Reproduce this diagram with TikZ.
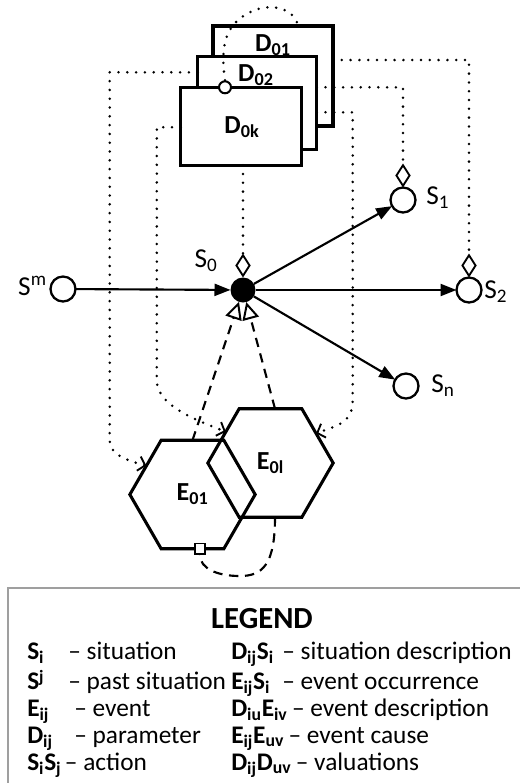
\documentclass[tikz,border=0pt]{standalone}
\usepackage{fontspec}
\setmainfont{Carlito}
\usetikzlibrary{arrows.meta,shapes.geometric,calc}
\newcommand\mysup[1]{\raisebox{0.25em}{\fontsize{13}{14}\selectfont #1}}
\begin{document}
\begin{tikzpicture}[x=0.75pt,y=-0.75pt,
  card/.style={draw, line width=2.5pt, fill=white, inner sep=0pt, outer sep=0pt},
  dlab/.style={font=\fontsize{19.5}{21}\selectfont\bfseries, inner sep=0pt},
  slab/.style={font=\fontsize{20.5}{22}\selectfont, inner sep=0pt},
  sit/.style={circle, draw, line width=1.7pt, fill=white, minimum size=18.75pt, inner sep=0pt, outer sep=0pt},
  hexa/.style={regular polygon, regular polygon sides=6, draw, line width=2.3pt, minimum size=94pt, inner sep=0pt, outer sep=0pt, font=\fontsize{19.5}{21}\selectfont\bfseries},
  sarrow/.style={line width=1.6pt, -{Triangle[length=12pt,width=9pt]}},
  dotline/.style={line width=2.1pt, dash pattern=on 0pt off 6.6pt, line cap=round},
  dashline/.style={line width=1.6pt, dash pattern=on 7pt off 5pt},
  otri/.style={-{Triangle[open,length=13pt,width=12.5pt,line width=1.5pt]}},
  dia/.style={-{Diamond[open,length=18pt,width=11.5pt,line width=1.4pt]}},
  barb/.style={-{Straight Barb[length=5pt,width=11pt,line width=1.4pt]}},
  leg/.style={font=\fontsize{19}{21}\selectfont, inner sep=0pt, anchor=base west},
  legb/.style={leg, font=\fontsize{19}{21}\selectfont\bfseries}
]
\useasboundingbox (0,0) rectangle (520,783);

% description cards
\node[card, minimum width=90pt, minimum height=75pt] (D01) at (273,76) {};
\node[card, minimum width=89.25pt, minimum height=69.75pt] (D02) at (257.2,103.3) {};
\node[card, minimum width=90.75pt, minimum height=58.5pt] (D0k) at (241.3,126.2) {};
\node[dlab] (tD01) at (273,45) {D\textsubscript{01}};
\node[dlab] (tD02) at (256,75) {D\textsubscript{02}};
\node[dlab] (tD0k) at (242,127) {D\textsubscript{0k}};
\node[circle, draw, line width=1.5pt, fill=white, minimum size=9pt, inner sep=0pt] (cir) at (225,87.3) {};

% situations
\node[sit] (Sm) at (63,289) {};
\node[circle, fill=black, minimum size=18.75pt, inner sep=0pt, outer sep=0pt] (S0) at (243,290) {};
\node[sit] (S1) at (403,200) {};
\node[sit] (S2) at (469,290) {};
\node[sit] (Sn) at (406,386) {};
\node[slab, anchor=east] (tSm) at (47,286) {S\textsuperscript{m}};
\node[slab] (tS0) at (206,261) {S\textsubscript{0}};
\node[slab, anchor=west] (tS1) at (426,198) {S\textsubscript{1}};
\node[slab, anchor=west] (tS2) at (484,292) {S\textsubscript{2}};
\node[slab, anchor=west] (tSn) at (431,386) {S\textsubscript{n}};

% events
\node[hexa] (E01) at (192.5,494.5) {E\textsubscript{01}};
\node[hexa] (E0l) at (270.5,463) {E\textsubscript{0l}};
\node[draw, line width=1.3pt, fill=white, minimum size=8pt, inner sep=0pt] (sq) at ($(E01.south)+(7.5,0)$) {};

% actions
\draw[sarrow] (Sm) -- (S0);
\draw[sarrow] (S0) -- (S1);
\draw[sarrow] (S0) -- (S2);
\draw[sarrow] (S0) -- (Sn);

% occurrence (dashed)
\draw[dashline, otri] (E01.north) -- (S0);
\draw[dashline, otri] ($(E0l.north)+(4.5,0)$) -- (S0);
\draw[dashline] ($(E0l.south)+(4.5,0)$) .. controls +(0,48) and +(22,0) .. (240,576) .. controls +(-22,0) and +(0,14) .. (sq.south);

% situation descriptions (dotted)
\draw[dotline, dia] (S0 |- D0k.south) -- (S0);
\draw[dotline, dia] ($(D02.north east)+(0,30.5)$) -| (S1);
\draw[dotline, dia] ($(D01.north east)+(0,34)$) -| (S2);

% event descriptions (dotted)
\draw[dotline, barb] ($(D02.north east)+(0,55.5)$) -- ++(36,0) -- ++(0,288) .. controls +(0,22) and +(22,-8) .. (E0l.33);
\draw[dotline, barb] ($(D02.north west)+(0,15.5)$) -- ++(-88,0) -- ++(0,368) .. controls +(0,15) and +(-18,-5) .. (E01.148);
\draw[dotline, barb] ($(D0k.north west)+(0,40)$) -- ++(-24,0) -- ++(0,253) .. controls +(0,25) and +(-31,-12) .. (E0l.145);

% valuation (dotted arc)
\draw[dotline] (cir.north) .. controls +(-5,-35) and (225,22) .. (255,10) .. controls (275,3) and (295,10) .. ($(D01.north west)+(85,0)$);

% legend
\draw[gray!75, line width=1.3pt] (8,790) -- (8,588) -- (530,588);
\node[font=\fontsize{23}{25}\selectfont\bfseries, inner sep=0pt] (legt) at (262,619) {LEGEND};
\node[legb] (a1) at (27,659) {S\textsubscript{i}};
\node[leg] (b1) at (68,659) {– situation};
\node[legb] (a2) at (27,689) {S\mysup{j}};
\node[leg] (b2) at (68,689) {– past situation};
\node[legb] (a3) at (27,716) {E\textsubscript{ij}};
\node[leg] (b3) at (74,716) {– event};
\node[legb] (a4) at (27,743) {D\textsubscript{ij}};
\node[leg] (b4) at (74,743) {– parameter};
\node[legb] (a5) at (27,770) {S\textsubscript{i}S\textsubscript{j}};
\node[leg] (b5) at ($(a5.base east)+(3,0)$) {– action};
\node[legb] (c1) at (231,659) {D\textsubscript{ij}S\textsubscript{i}};
\node[leg] (d1) at (282,659) {– situation description};
\node[legb] (c2) at (231,689) {E\textsubscript{ij}S\textsubscript{i}};
\node[leg] (d2) at (282,689) {– event occurrence};
\node[legb] (c3) at (231,716) {D\textsubscript{iu}E\textsubscript{iv}};
\node[leg] (d3) at ($(c3.base east)+(4,0)$) {– event description};
\node[legb] (c4) at (231,743) {E\textsubscript{ij}E\textsubscript{uv}};
\node[leg] (d4) at ($(c4.base east)+(4,0)$) {– event cause};
\node[legb] (c5) at (231,770) {D\textsubscript{ij}D\textsubscript{uv}};
\node[leg] (d5) at ($(c5.base east)+(4,0)$) {– valuations};
\end{tikzpicture}
\end{document}
